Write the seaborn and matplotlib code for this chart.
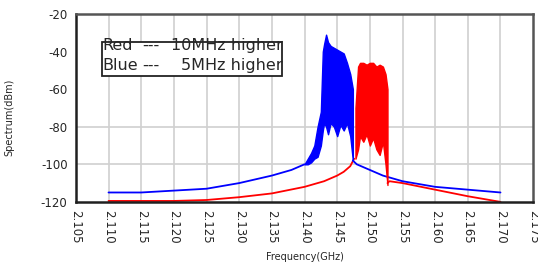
import numpy as np
import pandas as pd
import matplotlib
matplotlib.use('Agg')
import matplotlib.pyplot as plt
from matplotlib.patches import Rectangle
import seaborn as sns

# Blue trace (5MHz higher): skirts and band envelope
blue_left_f = [2.110, 2.115, 2.120, 2.125, 2.130, 2.135, 2.138, 2.140]
blue_left_v = [-115, -115, -114, -113, -110, -106, -103, -100]
blue_band_f = [2.1400, 2.1405, 2.1410, 2.1415, 2.1420, 2.1425, 2.1428, 2.1430, 2.1433,
               2.1436, 2.1440, 2.1445, 2.1450, 2.1455, 2.1460, 2.1465, 2.1470, 2.1474]
blue_band_hi = [-100, -97, -94, -90, -80, -72, -40, -36, -31, -35, -37, -38, -39, -40,
                -41, -46, -52, -60]
blue_band_lo = [-100, -100, -99, -97, -96, -90, -82, -78, -80, -84, -78, -80, -85, -79,
                -82, -78, -85, -98]
blue_right_f = [2.1474, 2.148, 2.150, 2.152, 2.155, 2.160, 2.165, 2.170]
blue_right_v = [-98, -100, -103, -106, -109, -112, -113.5, -115]

# Red trace (10MHz higher)
red_left_f = [2.110, 2.115, 2.120, 2.125, 2.130, 2.135, 2.140, 2.143, 2.145, 2.146, 2.147, 2.1476]
red_left_v = [-119.5, -119.5, -119.5, -119, -117.5, -115.5, -112, -109, -106, -104, -101, -97]
red_band_f = [2.1478, 2.1482, 2.1485, 2.1490, 2.1495, 2.1500, 2.1505, 2.1510, 2.1515,
              2.1520, 2.1524, 2.1527]
red_band_hi = [-70, -48, -46, -46, -47, -46, -46, -48, -47, -48, -52, -60]
red_band_lo = [-97, -92, -85, -88, -84, -90, -86, -92, -95, -88, -100, -111]
red_right_f = [2.1527, 2.153, 2.155, 2.160, 2.165, 2.170]
red_right_v = [-110, -109, -110, -113.5, -117, -120]

legend_names = ['Red', 'Blue']
legend_texts = ['10MHz higher', '5MHz higher']

xticks = [2.105, 2.110, 2.115, 2.120, 2.125, 2.130, 2.135, 2.140, 2.145, 2.150,
          2.155, 2.160, 2.165, 2.170, 2.175]
yticks = [-120, -100, -80, -60, -40, -20]

sns.set_style('white')
plt.rcParams['font.family'] = ['DejaVu Sans']

fig = plt.figure(figsize=(5.38, 2.8), dpi=100)
ax = fig.add_axes([0.141, 0.279, 0.850, 0.671])

# grid
for x in xticks[1:-1]:
    ax.axvline(x, color='#d0d0d0', lw=1.2, zorder=0)
for y in [-100, -80]:
    ax.axhline(y, color='#d0d0d0', lw=1.2, zorder=0)

blue = '#0000ff'
red = '#ff0000'

# red trace
red_df = pd.DataFrame({'f': red_left_f + red_right_f, 'v': red_left_v + red_right_v,
                       'seg': ['l'] * len(red_left_f) + ['r'] * len(red_right_f)})
sns.lineplot(data=red_df, x='f', y='v', units='seg', estimator=None, color=red, lw=1.3, ax=ax)
ax.fill_between(red_band_f, red_band_lo, red_band_hi, color=red, lw=1.0, zorder=3)

# blue trace
blue_df = pd.DataFrame({'f': blue_left_f + blue_right_f, 'v': blue_left_v + blue_right_v,
                        'seg': ['l'] * len(blue_left_f) + ['r'] * len(blue_right_f)})
sns.lineplot(data=blue_df, x='f', y='v', units='seg', estimator=None, color=blue, lw=1.3, ax=ax)
ax.fill_between(blue_band_f, blue_band_lo, blue_band_hi, color=blue, lw=1.0, zorder=3)

ax.set_xlim(2.105, 2.175)
ax.set_ylim(-120, -20)
ax.set_xticks(xticks)
ax.set_xticklabels(['%.3f' % x for x in xticks], rotation=-90, fontsize=8.5)
ax.set_yticks(yticks)
ax.set_yticklabels([str(y) for y in yticks], fontsize=8.5)
ax.set_yticks([-110, -90, -70, -50, -30], minor=True)
ax.tick_params(axis='both', which='major', direction='out', length=4, width=1, color='black', pad=2)
ax.tick_params(axis='y', which='minor', direction='out', length=2.5, width=1, color='black')

for side in ['left', 'bottom']:
    ax.spines[side].set_color('#202020')
    ax.spines[side].set_linewidth(1.8)
for side in ['top', 'right']:
    ax.spines[side].set_color('#555555')
    ax.spines[side].set_linewidth(1.8)

ax.set_xlabel('Frequency(GHz)', fontsize=7, labelpad=6)
ax.set_ylabel('Spectrum(dBm)', fontsize=7)
ax.yaxis.set_label_coords(-0.135, 0.45)

# legend box
ax.add_patch(Rectangle((0.057, 0.67), 0.394, 0.181, transform=ax.transAxes,
                       fc='white', ec='#222222', lw=1.3, zorder=5))
for row, (name, val) in enumerate(zip(legend_names, legend_texts)):
    yy = 0.832 - row * 0.104
    ax.text(0.058, yy, name, transform=ax.transAxes, fontsize=11.5, va='center', zorder=6)
    ax.text(0.145, yy, '---', transform=ax.transAxes, fontsize=11.5, va='center', zorder=6)
    ax.text(0.452, yy, val, transform=ax.transAxes, fontsize=11.5, va='center', ha='right', zorder=6)

fig.savefig('out.png', dpi=100)
